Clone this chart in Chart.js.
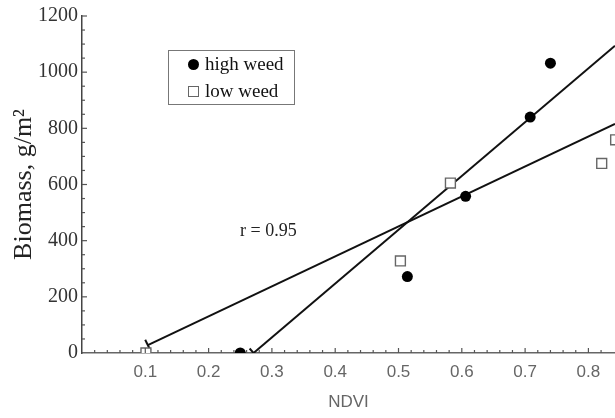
<!DOCTYPE html>
<html>
<head>
<meta charset="utf-8">
<script src="https://cdn.jsdelivr.net/npm/chart.js@4"></script>
<style>
  body { margin: 0; background: #fff; }
  #wrap { position: relative; width: 615px; height: 418px; }
  .legend {
    position: absolute; left: 168px; top: 50px; width: 125px; height: 53px;
    border: 1.5px solid #777; font-family: "Liberation Serif", serif; font-size: 19px; color: #111;
  }
  .legend div { position: absolute; left: 36px; line-height: 20px; }
  .mark { position: absolute; }
  .note { position: absolute; left: 240px; top: 220px; font-family: "Liberation Serif", serif; font-size: 18px; color: #222; }
</style>
</head>
<body>
<div id="wrap">
  <canvas id="chart" width="615" height="418"></canvas>
  <div class="legend">
    <span class="mark" style="left:19px;top:8px;width:11px;height:11px;border-radius:50%;background:#000"></span>
    <div style="top:3px">high weed</div>
    <span class="mark" style="left:19px;top:35px;width:9px;height:9px;border:1.3px solid #666"></span>
    <div style="top:30px">low weed</div>
  </div>
  <div class="note">r = 0.95</div>
</div>
<script>
// measured points (NDVI vs biomass)
const highX = [0.25, 0.514, 0.606, 0.708, 0.74];
const highY = [0, 272, 558, 840, 1032];
const lowX = [0.101, 0.503, 0.582, 0.821, 0.843];
const lowY = [0, 328, 605, 675, 759];

// fitted lines, end points
const highFitX = [0.271, 0.842];
const highFitY = [0, 1094];
const lowFitX = [0.104, 0.842];
const lowFitY = [28, 816];

const yLabels = [0, 200, 400, 600, 800, 1000, 1200];

function pts(xs, ys) {
    return xs.map(function (x, i) { return {x: x, y: ys[i]}; });
}

// little tick marks pointing into the plot
const innerTicks = {
    id: 'innerTicks',
    afterDatasetsDraw(chart) {
        const ctx = chart.ctx;
        const xs = chart.scales.x;
        const ys = chart.scales.y;
        const area = chart.chartArea;
        ctx.save();
        ctx.strokeStyle = '#555';
        ctx.lineWidth = 1.2;
        xs.ticks.forEach(function (t) {
            if (t.value <= 0 || t.value > 0.841) return;
            const major = Math.round(t.value * 50) % 5 === 0;
            const px = xs.getPixelForValue(t.value);
            ctx.beginPath();
            ctx.moveTo(px, area.bottom);
            ctx.lineTo(px, area.bottom - (major ? 5 : 3));
            ctx.stroke();
        });
        ys.ticks.forEach(function (t) {
            if (t.value <= 0) return;
            const major = t.value % 200 === 0;
            const py = ys.getPixelForValue(t.value);
            ctx.beginPath();
            ctx.moveTo(area.left, py);
            ctx.lineTo(area.left + (major ? 5 : 3), py);
            ctx.stroke();
        });
        ctx.restore();
    }
};

new Chart(document.getElementById('chart'), {
    type: 'scatter',
    data: {
        datasets: [{
            label: 'high weed',
            data: pts(highX, highY),
            pointStyle: 'circle',
            pointRadius: 5.5,
            backgroundColor: '#000',
            borderColor: '#000',
            borderWidth: 0,
            clip: 0
        }, {
            label: 'low weed',
            data: pts(lowX, lowY),
            pointStyle: 'rect',
            pointRadius: 7,
            backgroundColor: '#fff',
            borderColor: '#666',
            borderWidth: 1.4,
            clip: 0
        }, {
            label: 'high fit',
            data: pts(highFitX, highFitY),
            showLine: true,
            borderColor: '#111',
            borderWidth: 2,
            pointStyle: 'line',
            pointRadius: [6, 0],
            pointRotation: 49,
            pointBorderColor: '#111',
            pointBorderWidth: 2,
            clip: 0
        }, {
            label: 'low fit',
            data: pts(lowFitX, lowFitY),
            showLine: true,
            borderColor: '#111',
            borderWidth: 2,
            pointStyle: 'line',
            pointRadius: [6, 0],
            pointRotation: 64,
            pointBorderColor: '#111',
            pointBorderWidth: 2,
            clip: 0
        }]
    },
    options: {
        responsive: false,
        animation: false,
        devicePixelRatio: 1,
        layout: { autoPadding: false, padding: { top: 13, right: 0, left: 0, bottom: 0 } },
        plugins: {
            legend: { display: false },
            tooltip: { enabled: false }
        },
        scales: {
            x: {
                type: 'linear',
                min: 0,
                max: 0.842,
                afterFit: function (scale) { scale.height = 65; scale.paddingRight = 0; scale.paddingLeft = 0; },
                border: { display: true, color: '#666', width: 1.5 },
                grid: { drawOnChartArea: false, drawTicks: false },
                ticks: {
                    stepSize: 0.02,
                    autoSkip: false,
                    maxRotation: 0,
                    padding: 9,
                    color: '#666',
                    font: { family: 'Liberation Sans', size: 17 },
                    callback: function (v) {
                        const n = Math.round(v * 50);
                        if (n === 0 || n % 5 !== 0 || Math.abs(v * 50 - n) > 0.01) return '';
                        return (n / 50).toFixed(1);
                    }
                },
                title: {
                    display: true,
                    text: 'NDVI',
                    color: '#666',
                    font: { family: 'Liberation Sans', size: 17 },
                    padding: { top: 0, bottom: 5 }
                }
            },
            y: {
                min: 0,
                max: 1200,
                afterFit: function (scale) { scale.width = 82; },
                border: { display: true, color: '#444', width: 1.5 },
                grid: { drawOnChartArea: false, drawTicks: false },
                ticks: {
                    stepSize: 50,
                    autoSkip: false,
                    padding: 4,
                    color: '#333',
                    font: { family: 'Liberation Serif', size: 20 },
                    callback: function (v) {
                        return yLabels.indexOf(v) >= 0 ? String(v) : '';
                    }
                },
                title: {
                    display: true,
                    text: 'Biomass, g/m²',
                    color: '#222',
                    font: { family: 'Liberation Serif', size: 26 },
                    padding: { top: 9, bottom: 0 }
                }
            }
        }
    },
    plugins: [innerTicks]
});
</script>
</body>
</html>
